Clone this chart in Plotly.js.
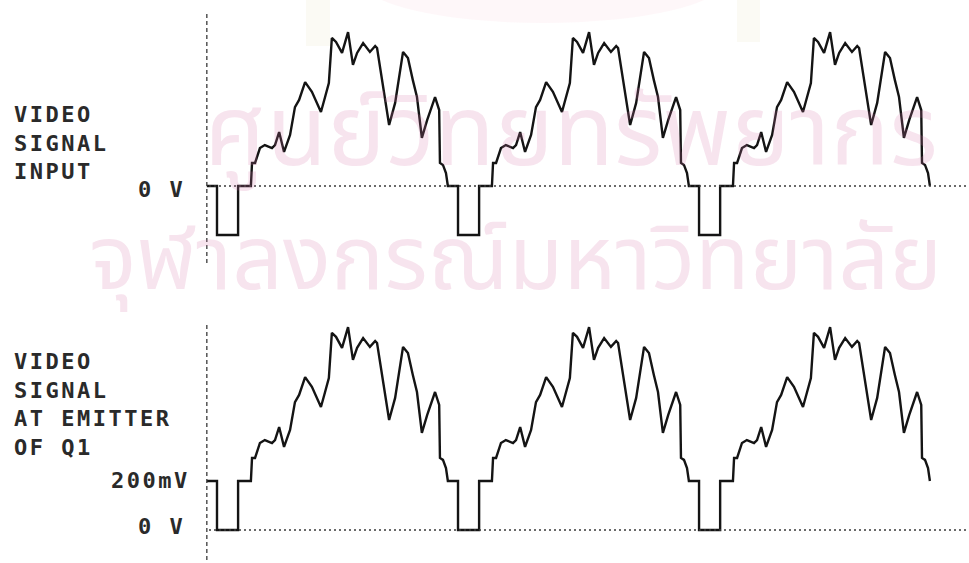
<!DOCTYPE html>
<html>
<head>
<meta charset="utf-8">
<script src="https://cdn.plot.ly/plotly-3.0.1.min.js"></script>
<style>
  html, body { margin: 0; padding: 0; background: #ffffff; }
  #chart { width: 969px; height: 563px; }
  .annotation-text { letter-spacing: 2.5px; }
  .annotation[data-index="5"] .annotation-text,
  .annotation[data-index="6"] .annotation-text { letter-spacing: 0px; }
</style>
</head>
<body>
<div id="chart"></div>
<script>
// One horizontal line period (time in microseconds from the sync edge)
const lineTime = [0,0,5.6,5.6,9.0,9.3,10.1,11.4,12.7,14.6,15.4,16.5,17.8,19.4,20.7,21.8,23.4,25.2,27.6,28.7,29.7,30.5,31.6,33.2,34.3,34.8,36.1,37.2,38.8,40.6,42.0,42.5,45.7,47.3,49.4,50.7,52.0,53.1,54.4,55.8,57.9,59.0,59.2,60.0,60.8,61.3];
// Video signal input (mV, relative to blanking level)
const inputMv = [0,-200,-200,0,0,94,94,155,167,155,167,220,139,208,322,351,424,384,302,363,420,604,588,543,596,628,494,543,583,547,571,563,249,339,547,522,432,363,196,269,363,310,94,86,53,0];
// Video signal at emitter of Q1 (mV)
const emitterMv = [200,0,0,200,200,294,294,355,367,355,367,420,339,408,522,551,624,584,502,563,620,804,788,743,796,828,694,743,783,747,771,763,449,539,747,722,632,563,396,469,563,510,294,286,253,200];
const linePeriod = 64;      // microseconds per line
const lineStarts = [0, 1, 2]; // three lines shown
const traceStart = -2.7;    // trace begins shortly before the first sync pulse

const topLabel = "VIDEO<br>SIGNAL<br>INPUT";
const bottomLabel = "VIDEO<br>SIGNAL<br>AT EMITTER<br>OF Q1";
const topZeroLabel = "0 V";
const bottomLevelLabels = ["200mV", "0 V"];
const bottomLevelValues = [200, 0];
const watermark = ["ศูนย์วิทยทรัพยากร", "จุฬาลงกรณ์มหาวิทยาลัย"];

function buildTrace(startLevel, values) {
  const xs = [traceStart], ys = [startLevel];
  lineStarts.forEach(k => {
    lineTime.forEach((t, i) => { xs.push(t + k * linePeriod); ys.push(values[i]); });
  });
  return {xs, ys};
}
const inputTrace = buildTrace(0, inputMv);
const emitterTrace = buildTrace(200, emitterMv);

const W = 969, H = 563;
const pxPerUs = 3.766, syncPx = 217;
const mvPerPx = 4.08;
const topZeroPx = 186, botZeroPx = 530;

const xr = [-syncPx / pxPerUs, (W - syncPx) / pxPerUs];
const yr1 = [(topZeroPx - H) * mvPerPx, topZeroPx * mvPerPx];
const yr2 = [(botZeroPx - H) * mvPerPx, botZeroPx * mvPerPx];

const lineStyle = {color: '#141414', width: 2.4, shape: 'linear'};
const traces = [
  {x: inputTrace.xs, y: inputTrace.ys, type: 'scatter', mode: 'lines', line: lineStyle, xaxis: 'x', yaxis: 'y', hoverinfo: 'skip'},
  {x: emitterTrace.xs, y: emitterTrace.ys, type: 'scatter', mode: 'lines', line: lineStyle, xaxis: 'x', yaxis: 'y2', hoverinfo: 'skip'}
];

const labelFont = {family: 'DejaVu Sans Mono, monospace', size: 22, color: '#2a2a2a', weight: 'bold'};
const wmFont1 = {family: 'Noto Sans Thai, Noto Sans, DejaVu Sans, sans-serif', size: 99, color: 'rgba(215,120,170,0.2)'};
const wmFont2 = {family: 'Noto Sans Thai, Noto Sans, DejaVu Sans, sans-serif', size: 89, color: 'rgba(215,120,170,0.2)'};

const annotations = [
  {text: topLabel, xref: 'paper', yref: 'paper', x: 12 / W, y: 1 - 142.5 / H, xanchor: 'left', yanchor: 'middle', align: 'left', showarrow: false, font: labelFont},
  {text: bottomLabel, xref: 'paper', yref: 'paper', x: 12 / W, y: 1 - 404.5 / H, xanchor: 'left', yanchor: 'middle', align: 'left', showarrow: false, font: labelFont},
  {text: topZeroLabel, xref: 'paper', yref: 'y', x: 187 / W, y: 0, yshift: -3.5, xanchor: 'right', yanchor: 'middle', showarrow: false, font: labelFont},
  {text: bottomLevelLabels[0], xref: 'paper', yref: 'y2', x: 192 / W, y: bottomLevelValues[0], yshift: 0, xanchor: 'right', yanchor: 'middle', showarrow: false, font: labelFont},
  {text: bottomLevelLabels[1], xref: 'paper', yref: 'y2', x: 187 / W, y: bottomLevelValues[1], yshift: 4, xanchor: 'right', yanchor: 'middle', showarrow: false, font: labelFont},
  {text: watermark[0], xref: 'paper', yref: 'paper', x: 186 / W, y: 1 - 135 / H, xanchor: 'left', yanchor: 'middle', showarrow: false, font: wmFont1},
  {text: watermark[1], xref: 'paper', yref: 'paper', x: 66 / W, y: 1 - 262 / H, xanchor: 'left', yanchor: 'middle', showarrow: false, font: wmFont2}
];

const dotted = {color: '#3a3a3a', width: 1.6, dash: '2px,3px'};
const dashedV = {color: '#3a3a3a', width: 1.3, dash: '4px,3px'};
const shapes = [
  {type: 'circle', xref: 'paper', yref: 'paper', x0: 363 / W, x1: 723 / W, y0: 1 - 23 / H, y1: 1 + 60 / H, fillcolor: 'rgba(240,170,190,0.09)', line: {width: 0}, layer: 'below'},
  {type: 'rect', xref: 'paper', yref: 'paper', x0: 306 / W, x1: 330 / W, y0: 1 - 46 / H, y1: 1, fillcolor: 'rgba(235,225,195,0.18)', line: {width: 0}, layer: 'below'},
  {type: 'rect', xref: 'paper', yref: 'paper', x0: 737 / W, x1: 760 / W, y0: 1 - 42 / H, y1: 1, fillcolor: 'rgba(235,225,195,0.18)', line: {width: 0}, layer: 'below'},
  {type: 'line', xref: 'paper', yref: 'y', x0: 209 / W, x1: 1, y0: 0, y1: 0, line: dotted},
  {type: 'line', xref: 'paper', yref: 'y2', x0: 209 / W, x1: 1, y0: 0, y1: 0, line: dotted},
  {type: 'line', xref: 'x', yref: 'y', x0: traceStart, x1: traceStart, y0: -314, y1: 706, line: dashedV},
  {type: 'line', xref: 'x', yref: 'y2', x0: traceStart, x1: traceStart, y0: -122, y1: 845, line: dashedV}
];

const axisOff = {showgrid: false, zeroline: false, showticklabels: false, showline: false, ticks: '', fixedrange: true};
const layout = {
  width: W, height: H,
  margin: {l: 0, r: 0, t: 0, b: 0, pad: 0},
  paper_bgcolor: '#ffffff', plot_bgcolor: '#ffffff',
  showlegend: false,
  xaxis: Object.assign({range: xr, domain: [0, 1]}, axisOff),
  yaxis: Object.assign({range: yr1, domain: [0, 1]}, axisOff),
  yaxis2: Object.assign({range: yr2, overlaying: 'y'}, axisOff),
  annotations: annotations,
  shapes: shapes
};
Plotly.newPlot('chart', traces, layout, {staticPlot: true, displayModeBar: false});
</script>
</body>
</html>
